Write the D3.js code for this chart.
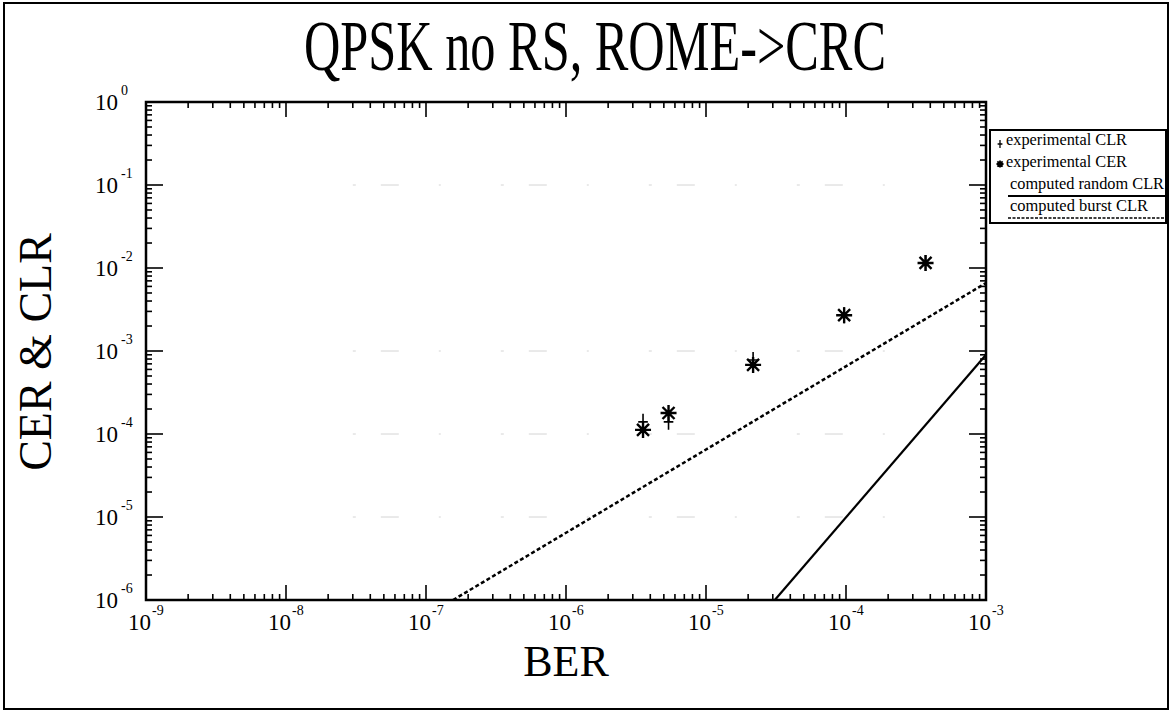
<!DOCTYPE html>
<html>
<head>
<meta charset="utf-8">
<script src="https://cdn.jsdelivr.net/npm/d3@7"></script>
<style>
  body { margin: 0; background: #fff; }
  svg { display: block; }
  text { font-family: "Liberation Serif", "DejaVu Serif", serif; fill: #000; }
</style>
</head>
<body>
<svg width="1172" height="716"></svg>
<script>
// measured points (BER on x, rate on y)
const clrBer = [3.55e-6, 5.4e-6, 2.17e-5, 9.7e-5, 3.7e-4];
const clrVal = [1.4e-4, 1.4e-4, 7.8e-4, 2.7e-3, 1.15e-2];
const cerBer = [3.55e-6, 5.4e-6, 2.17e-5, 9.7e-5, 3.7e-4];
const cerVal = [1.12e-4, 1.79e-4, 6.8e-4, 2.7e-3, 1.15e-2];

// computed curves
const randomBer = [3.1e-5, 1e-3];
const randomClr = [1e-6, 9e-4];
const burstBer = [1.56e-7, 1e-3];
const burstClr = [1e-6, 6.6e-3];

const xExps = [-9, -8, -7, -6, -5, -4, -3];
const yExps = [0, -1, -2, -3, -4, -5, -6];

const legendItems = [
  { label: "experimental CLR", kind: "plus" },
  { label: "experimental CER", kind: "star" },
  { label: "computed random CLR", kind: "solid" },
  { label: "computed burst CLR", kind: "dash" }
];

const svg = d3.select("svg");
const width = +svg.attr("width");
const height = +svg.attr("height");

const plot = { left: 146, right: 986, top: 102, bottom: 600 };

const x = d3.scaleLog().domain([1e-9, 1e-3]).range([plot.left, plot.right]);
const y = d3.scaleLog().domain([1e-6, 1]).range([plot.bottom, plot.top]);

// outer frame
svg.append("rect")
  .attr("x", 4).attr("y", 3)
  .attr("width", width - 8).attr("height", height - 10)
  .attr("fill", "none").attr("stroke", "#000").attr("stroke-width", 2);

// title
svg.append("text")
  .attr("x", 595).attr("y", 70)
  .attr("text-anchor", "middle")
  .attr("font-size", 72)
  .attr("textLength", 582)
  .attr("lengthAdjust", "spacingAndGlyphs")
  .text("QPSK no RS, ROME->CRC");

// faint scan grid at some decades (sporadic, as in the scan)
const grid = svg.append("g").attr("stroke", "#d4d4d4").attr("stroke-width", 1)
  .attr("stroke-dasharray", "3 25 18 40 2 60");
[-1, -3, -4, -5].forEach(e => {
  grid.append("line")
    .attr("x1", x(3e-8)).attr("x2", x(5e-4))
    .attr("y1", y(Math.pow(10, e))).attr("y2", y(Math.pow(10, e)));
});

// minor/major ticks
function tickValues(lo, hi) {
  const out = [];
  for (let e = lo; e < hi; e++) {
    for (let m = 1; m < 10; m++) out.push({ v: m * Math.pow(10, e), major: m === 1 });
  }
  out.push({ v: Math.pow(10, hi), major: true });
  return out;
}

const axes = svg.append("g").attr("stroke", "#000");

tickValues(-9, -3).forEach(t => {
  const px = x(t.v);
  const len = t.major ? 15 : 6;
  axes.append("line").attr("x1", px).attr("x2", px)
    .attr("y1", plot.bottom).attr("y2", plot.bottom - len).attr("stroke-width", 1.6);
  axes.append("line").attr("x1", px).attr("x2", px)
    .attr("y1", plot.top).attr("y2", plot.top + len).attr("stroke-width", 1.6);
});

tickValues(-6, 0).forEach(t => {
  const py = y(t.v);
  const len = t.major ? 17 : 6;
  axes.append("line").attr("x1", plot.left).attr("x2", plot.left + len)
    .attr("y1", py).attr("y2", py).attr("stroke-width", 1.6);
  axes.append("line").attr("x1", plot.right).attr("x2", plot.right - len)
    .attr("y1", py).attr("y2", py).attr("stroke-width", 1.6);
});

// plot frame
svg.append("rect")
  .attr("x", plot.left).attr("y", plot.top)
  .attr("width", plot.right - plot.left).attr("height", plot.bottom - plot.top)
  .attr("fill", "none").attr("stroke", "#000").attr("stroke-width", 2.5);

// tick labels
xExps.forEach(e => {
  const t = svg.append("text")
    .attr("x", x(Math.pow(10, e)) - 18).attr("y", 630)
    .attr("font-size", 23);
  t.append("tspan").text("10");
  t.append("tspan").attr("font-size", 14).attr("dy", -15).attr("dx", 1).text(e);
});

yExps.forEach(e => {
  const t = svg.append("text")
    .attr("x", plot.left - 51).attr("y", y(Math.pow(10, e)) + 8)
    .attr("font-size", 23);
  t.append("tspan").text("10");
  t.append("tspan").attr("font-size", 14).attr("dy", -15).attr("dx", 3).text(e);
});

// axis titles
svg.append("text")
  .attr("x", 566).attr("y", 676)
  .attr("text-anchor", "middle")
  .attr("font-size", 44)
  .text("BER");

svg.append("text")
  .attr("transform", "translate(51,352) rotate(-90)")
  .attr("text-anchor", "middle")
  .attr("font-size", 46)
  .text("CER & CLR");

// curves
const line = d3.line().x(d => x(d[0])).y(d => y(d[1]));

svg.append("path")
  .datum(d3.zip(randomBer, randomClr))
  .attr("d", line)
  .attr("fill", "none").attr("stroke", "#000").attr("stroke-width", 2.2);

svg.append("path")
  .datum(d3.zip(burstBer, burstClr))
  .attr("d", line)
  .attr("fill", "none").attr("stroke", "#000").attr("stroke-width", 2.5)
  .attr("stroke-dasharray", "4 2.5");

// markers
function plus(g, cx, cy, s, w) {
  g.append("path")
    .attr("d", `M${cx - s * 0.6},${cy}H${cx + s * 0.6}M${cx},${cy - s}V${cy + s}`)
    .attr("stroke", "#000").attr("stroke-width", w).attr("fill", "none");
}
function star(g, cx, cy, s, w) {
  const d = [];
  d.push(`M${cx - s},${cy}H${cx + s}`);
  d.push(`M${cx},${cy - s}V${cy + s}`);
  const k = s * 0.75;
  d.push(`M${cx - k},${cy - k}L${cx + k},${cy + k}`);
  d.push(`M${cx - k},${cy + k}L${cx + k},${cy - k}`);
  g.append("path").attr("d", d.join(""))
    .attr("stroke", "#000").attr("stroke-width", w).attr("fill", "none");
}

const marks = svg.append("g");
d3.zip(clrBer, clrVal).forEach(d => plus(marks, x(d[0]), y(d[1]), 8, 1.6));
d3.zip(cerBer, cerVal).forEach(d => star(marks, x(d[0]), y(d[1]), 8, 2.4));

// legend
const lg = svg.append("g");
lg.append("rect")
  .attr("x", 990).attr("y", 130).attr("width", 176).attr("height", 93)
  .attr("fill", "#fff").attr("stroke", "#000").attr("stroke-width", 2);

legendItems.forEach((it, i) => {
  const ty = 145 + i * 22;
  if (it.kind === "plus" || it.kind === "star") {
    if (it.kind === "plus") plus(lg, 1000, ty - 1, 4, 1.3);
    else star(lg, 1000, ty - 3, 3.5, 1.8);
    lg.append("text").attr("x", 1006).attr("y", ty)
      .attr("font-size", 16).attr("textLength", 121).attr("lengthAdjust", "spacingAndGlyphs")
      .text(it.label);
  } else {
    lg.append("text").attr("x", 1010).attr("y", ty)
      .attr("font-size", 16).attr("textLength", i === 2 ? 154 : 138)
      .attr("lengthAdjust", "spacingAndGlyphs")
      .text(it.label);
    lg.append("line")
      .attr("x1", 1008).attr("x2", 1166)
      .attr("y1", ty + 7).attr("y2", ty + 7)
      .attr("stroke", "#000").attr("stroke-width", it.kind === "solid" ? 2 : 1.5)
      .attr("stroke-dasharray", it.kind === "dash" ? "3 1.5" : null);
  }
});
</script>
</body>
</html>
